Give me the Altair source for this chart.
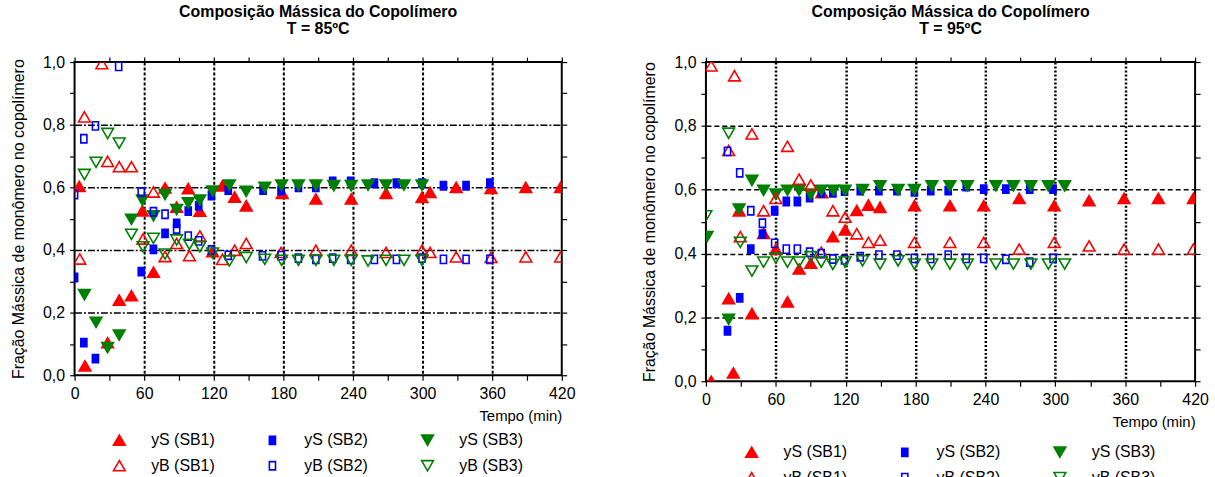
import altair as alt
import pandas as pd

FONT = "Liberation Sans"

# ---------------- series definitions ----------------
# order chosen so that the 3-column legend reads yS row on top, yB row below
SERIES = ["yS (SB1)", "yB (SB1)", "yS (SB2)", "yB (SB2)", "yS (SB3)", "yB (SB3)"]
STROKES = ["#ff0000", "#ff0000", "#0000ff", "#0000ff", "#008000", "#008000"]
FILLS = ["#ff0000", "transparent", "#0000ff", "transparent", "#008000", "transparent"]
RECT = "M-0.52,-0.7L0.52,-0.7L0.52,0.7L-0.52,0.7Z"
SHAPES = ["triangle-up", "triangle-up", RECT, RECT, "triangle-down", "triangle-down"]

X_TICKS = [0, 30, 60, 90, 120, 150, 180, 210, 240, 270, 300, 330, 360, 390, 420]
Y_TICKS = [0.0, 0.1, 0.2, 0.3, 0.4, 0.5, 0.6, 0.7, 0.8, 0.9, 1.0]

TITLE_1 = "Composição Mássica do Copolímero"
Y_TITLE = "Fração Mássica de monômero no copolímero"
X_TITLE = "Tempo (min)"

# ---------------- T = 85 ºC ----------------
t85_yS_SB1 = [4, 9, 28.5, 38.5, 49, 58.5, 68, 78, 88, 98, 108, 119, 127.5, 138, 148, 179, 208, 238.5, 268.5, 299.5, 306.5, 329, 359, 389, 419]
v85_yS_SB1 = [0.603, 0.03, 0.104, 0.24, 0.254, 0.525, 0.329, 0.598, 0.537, 0.596, 0.524, 0.395, 0.605, 0.569, 0.541, 0.581, 0.563, 0.563, 0.581, 0.568, 0.584, 0.6, 0.597, 0.6, 0.6]
t85_yB_SB1 = [4.5, 8.5, 23.5, 28.5, 38.5, 49, 59, 68, 78, 88, 99, 108, 127.5, 138, 148, 178, 208, 238.5, 268.5, 299.5, 306.5, 329, 359, 389, 419]
v85_yB_SB1 = [0.371, 0.825, 0.995, 0.683, 0.666, 0.666, 0.435, 0.585, 0.379, 0.421, 0.382, 0.445, 0.37, 0.399, 0.421, 0.392, 0.399, 0.399, 0.392, 0.399, 0.392, 0.378, 0.376, 0.378, 0.378]
t85_yS_SB2 = [0, 8, 18, 57.5, 68, 78, 88, 98, 107, 118, 132.5, 162.5, 178, 193, 208, 222.5, 238, 258.5, 277.5, 299.5, 318, 337.5, 358]
v85_yS_SB2 = [0.312, 0.104, 0.053, 0.331, 0.402, 0.453, 0.485, 0.524, 0.541, 0.574, 0.591, 0.591, 0.59, 0.6, 0.6, 0.619, 0.619, 0.613, 0.613, 0.613, 0.605, 0.605, 0.613]
t85_yB_SB2 = [0, 8, 18, 38, 57.5, 68, 78, 88, 98, 107, 118, 132.5, 162, 178, 193, 208, 222.5, 238, 258.5, 277.5, 299.5, 318, 337.5, 358]
v85_yB_SB2 = [0.577, 0.755, 0.796, 0.986, 0.585, 0.522, 0.514, 0.467, 0.444, 0.429, 0.4, 0.383, 0.381, 0.382, 0.374, 0.37, 0.374, 0.37, 0.37, 0.37, 0.374, 0.37, 0.37, 0.37]
t85_yS_SB3 = [8.5, 18.5, 28.5, 38.5, 49, 58.5, 68, 78, 88, 98, 108, 119, 133.5, 148, 164, 178.5, 193, 208, 223.5, 238.5, 253, 268.5, 284, 299.5]
v85_yS_SB3 = [0.257, 0.169, 0.088, 0.128, 0.498, 0.559, 0.509, 0.577, 0.529, 0.55, 0.559, 0.588, 0.607, 0.587, 0.6, 0.607, 0.607, 0.607, 0.605, 0.605, 0.607, 0.607, 0.607, 0.607]
t85_yB_SB3 = [8.5, 18.5, 28.5, 38.5, 49, 59, 68, 78, 88, 99, 108, 119, 133.5, 148, 164, 178.5, 193, 208, 223.5, 238.5, 253, 268.5, 284, 299.5]
v85_yB_SB3 = [0.641, 0.68, 0.772, 0.741, 0.45, 0.41, 0.437, 0.387, 0.432, 0.418, 0.41, 0.39, 0.365, 0.376, 0.37, 0.367, 0.367, 0.367, 0.367, 0.367, 0.365, 0.367, 0.367, 0.367]

# ---------------- T = 95 ºC ----------------
t95_yS_SB1 = [4.5, 19.5, 23.5, 28.5, 39.5, 49.5, 60, 70, 80, 90, 99.5, 109, 119.5, 129.5, 139.5, 149.5, 179, 209.5, 238.5, 269, 299, 329, 359, 388.5, 418.5]
v95_yS_SB1 = [0.0, 0.259, 0.026, 0.534, 0.212, 0.463, 0.414, 0.249, 0.352, 0.37, 0.591, 0.453, 0.474, 0.535, 0.552, 0.545, 0.55, 0.55, 0.55, 0.573, 0.55, 0.566, 0.573, 0.573, 0.573]
t95_yB_SB1 = [4.5, 19.5, 24.5, 29.5, 39.5, 49.5, 60, 70, 80, 90, 99, 109, 119.5, 129.5, 139.5, 149.5, 179, 209.5, 238.5, 269, 299, 329, 359, 388.5, 418.5]
v95_yB_SB1 = [0.988, 0.723, 0.957, 0.453, 0.775, 0.534, 0.573, 0.736, 0.633, 0.615, 0.404, 0.534, 0.514, 0.462, 0.435, 0.442, 0.435, 0.435, 0.435, 0.414, 0.435, 0.424, 0.414, 0.414, 0.414]
t95_yS_SB2 = [18.5, 29, 38.5, 48.5, 59, 69, 78.5, 89, 99, 109, 119, 132.5, 148.5, 164, 179, 193, 208, 223.5, 238.5, 257.5, 278, 298]
v95_yS_SB2 = [0.158, 0.261, 0.414, 0.461, 0.534, 0.563, 0.563, 0.575, 0.59, 0.59, 0.596, 0.597, 0.597, 0.597, 0.593, 0.597, 0.597, 0.61, 0.602, 0.602, 0.602, 0.602]
t95_yB_SB2 = [18.5, 29, 38.5, 48.5, 59, 69, 78.5, 89, 99, 109, 119, 132.5, 148.5, 164, 179, 193, 208, 223.5, 238.5, 257.5, 278, 298]
v95_yB_SB2 = [0.72, 0.653, 0.534, 0.495, 0.432, 0.414, 0.414, 0.404, 0.4, 0.383, 0.38, 0.39, 0.395, 0.395, 0.385, 0.385, 0.395, 0.385, 0.385, 0.382, 0.373, 0.385]
t95_yS_SB3 = [1, 19.5, 28.5, 39.5, 49.5, 60, 70, 80, 90, 99, 109.5, 119.5, 134.5, 149.5, 165, 179, 194, 209.5, 224.5, 249, 264, 279, 294, 308]
v95_yS_SB3 = [0.453, 0.194, 0.539, 0.629, 0.598, 0.586, 0.598, 0.598, 0.586, 0.598, 0.598, 0.598, 0.6, 0.612, 0.6, 0.6, 0.612, 0.612, 0.612, 0.612, 0.612, 0.612, 0.612, 0.612]
t95_yB_SB3 = [0, 19.5, 29.5, 39.5, 49.5, 60, 70, 80, 90, 99, 109, 119.5, 134.5, 149.5, 165, 179, 194, 209.5, 224.5, 249, 264, 279, 294, 308]
v95_yB_SB3 = [0.518, 0.777, 0.435, 0.345, 0.373, 0.386, 0.373, 0.373, 0.39, 0.373, 0.366, 0.373, 0.377, 0.367, 0.377, 0.367, 0.367, 0.367, 0.367, 0.367, 0.367, 0.367, 0.367, 0.367]


def frame(pairs):
    rows = []
    for name, ts, vs in pairs:
        for t, v in zip(ts, vs):
            rows.append({"t": t, "v": v, "serie": name})
    return pd.DataFrame(rows)


def panel(temp_label, filled, hollow, w, h, xdash, xwidth, ydash, legend_x, legend_y):
    legend = alt.Legend(
        title=None, orient="none", legendX=legend_x, legendY=legend_y,
        columns=3, columnPadding=49, rowPadding=8,
        labelFont=FONT, labelFontSize=16, labelColor="black", labelOffset=24,
        symbolSize=140, symbolStrokeWidth=1.6,
    )
    sx = alt.Scale(domain=[0, 420], nice=False, zero=False)
    sy = alt.Scale(domain=[0, 1], nice=False)
    s_stroke = alt.Scale(domain=SERIES, range=STROKES)
    s_fill = alt.Scale(domain=SERIES, range=FILLS)
    s_shape = alt.Scale(domain=SERIES, range=SHAPES)

    x_main = alt.Axis(
        values=X_TICKS, labelExpr="datum.value % 60 == 0 ? datum.label : ''",
        labelFlush=False, labelOverlap=False, labelFont=FONT, labelFontSize=16,
        labelColor="black", labelPadding=5,
        tickSize=5, tickColor="black", tickWidth=1.2, domain=False,
        grid=True, gridColor="black", gridDash=xdash, gridWidth=xwidth,
        gridOpacity={"condition": {"test": "datum.value % 60 == 0 && datum.value > 0 && datum.value < 420", "value": 1}, "value": 0},
        title=X_TITLE, titleAnchor="end", titleFont=FONT, titleFontSize=15,
        titleFontWeight="normal", titleColor="black", titlePadding=8,
    )
    y_main = alt.Axis(
        values=Y_TICKS,
        labelExpr="round(datum.value * 10) % 2 == 0 ? replace(format(datum.value, '.1f'), '.', ',') : ''",
        labelFlush=False, labelOverlap=False, labelFont=FONT, labelFontSize=16,
        labelColor="black", labelPadding=5,
        tickSize=5, tickColor="black", tickWidth=1.2, domain=False,
        grid=True, gridColor="black", gridDash=ydash, gridWidth=1.5,
        gridOpacity={"condition": {"test": "round(datum.value * 10) % 2 == 0 && datum.value > 0.05 && datum.value < 0.95", "value": 1}, "value": 0},
        title=Y_TITLE, titleFont=FONT, titleFontSize=16, titleFontWeight="normal",
        titleColor="black", titlePadding=16,
    )
    x_top = alt.Axis(values=X_TICKS, orient="top", labels=False, grid=False, domain=False,
                     tickSize=5, tickColor="black", tickWidth=1.2, title=None)
    y_right = alt.Axis(values=Y_TICKS, orient="right", labels=False, grid=False, domain=False,
                       tickSize=5, tickColor="black", tickWidth=1.2, title=None)

    def layer(df, xa, ya):
        return alt.Chart(df).mark_point(size=140, strokeWidth=1.6, opacity=1, clip=True).encode(
            x=alt.X("t:Q", scale=sx, axis=xa),
            y=alt.Y("v:Q", scale=sy, axis=ya),
            stroke=alt.Stroke("serie:N", scale=s_stroke, legend=legend),
            fill=alt.Fill("serie:N", scale=s_fill, legend=legend),
            shape=alt.Shape("serie:N", scale=s_shape, legend=legend),
        )

    return alt.layer(layer(filled, x_main, y_main), layer(hollow, x_top, y_right)).resolve_axis(
        x="independent", y="independent"
    ).properties(
        width=w, height=h,
        title=alt.TitleParams(text=[TITLE_1, temp_label], font=FONT, fontSize=16,
                              fontWeight="bold", color="black", anchor="middle",
                              lineHeight=17, offset=17),
    )


left = panel(
    "T = 85ºC",
    frame([("yS (SB1)", t85_yS_SB1, v85_yS_SB1), ("yS (SB2)", t85_yS_SB2, v85_yS_SB2), ("yS (SB3)", t85_yS_SB3, v85_yS_SB3)]),
    frame([("yB (SB1)", t85_yB_SB1, v85_yB_SB1), ("yB (SB2)", t85_yB_SB2, v85_yB_SB2), ("yB (SB3)", t85_yB_SB3, v85_yB_SB3)]),
    490, 315, [3, 2], 2, [7, 2, 2, 2], 37, 372,
)
right = panel(
    "T = 95ºC",
    frame([("yS (SB1)", t95_yS_SB1, v95_yS_SB1), ("yS (SB2)", t95_yS_SB2, v95_yS_SB2), ("yS (SB3)", t95_yS_SB3, v95_yS_SB3)]),
    frame([("yB (SB1)", t95_yB_SB1, v95_yB_SB1), ("yB (SB2)", t95_yB_SB2, v95_yB_SB2), ("yB (SB3)", t95_yB_SB3, v95_yB_SB3)]),
    492, 321, [2, 2], 2.5, [5, 3], 38, 384,
)

chart = alt.hconcat(left, right, spacing=64).resolve_scale(
    stroke="independent", fill="independent", shape="independent"
).configure(
    font=FONT, padding={"left": 9, "top": 2, "right": 5, "bottom": 0}, background="white"
).configure_view(stroke="black", strokeWidth=2)

chart.save("out.html", embed_options={"renderer": "svg", "actions": False})
